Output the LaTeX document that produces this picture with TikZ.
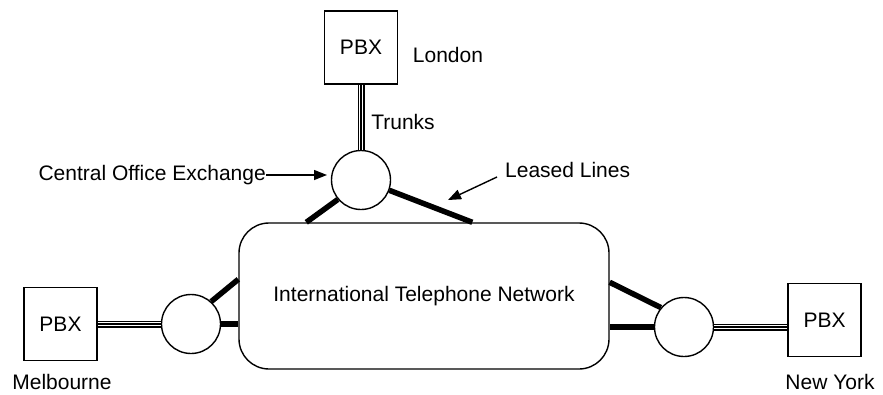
\documentclass[tikz,border=0pt]{standalone}
\usepackage{fontspec}
\setmainfont{Liberation Sans}
\usetikzlibrary{arrows.meta,calc}
\begin{document}
\begin{tikzpicture}[x=1pt,y=-1pt,
  every node/.style={font=\fontsize{21}{25}\selectfont, inner sep=0pt},
  pbx/.style={draw, line width=1.4pt, minimum width=73pt, minimum height=73pt},
  office/.style={draw, circle, line width=1.4pt, minimum size=59pt, fill=white},
  network/.style={draw, line width=1.4pt, rounded corners=30pt, minimum width=370pt, minimum height=146pt},
  leased/.style={line width=5.5pt},
  trunkout/.style={line width=1.2pt, double, double distance=4.6pt},
  trunkin/.style={line width=1.2pt},
  pointer/.style={line width=1.4pt, -{Triangle[length=13pt,width=10pt]}}]
\useasboundingbox (0,0) rectangle (883,394);

\node[network] (net) at (424,296) {International Telephone Network};

\node[pbx] (lon) at (361,47.5) {PBX};
\node[pbx] (mel) at (60.5,324) {PBX};
\node[pbx] (ny) at (824.5,320) {PBX};

\node[office] (c1) at (361,180) {};
\node[office] (c2) at (191,324) {};
\node[office] (c3) at (684,327) {};

\node (london) at (448,55) {London};
\node (trunks) at (403,122) {Trunks};
\node (melb) at (62,382) {Melbourne};
\node (nyork) at (830,382) {New York};
\node[anchor=east] (coe) at (266,175) {Central Office Exchange};
\node[anchor=west] (ll) at (505,170) {Leased Lines};

% trunks
\draw[trunkout] (lon.south) -- (c1.north);
\draw[trunkin] (lon.south) -- (c1.north);
\draw[trunkout] (mel.east) -- (c2.west);
\draw[trunkin] (mel.east) -- (c2.west);
\draw[trunkout] (c3.east) -- (c3.east -| ny.west);
\draw[trunkin] (c3.east) -- (c3.east -| ny.west);

% leased lines
\draw[leased] (c1.220) -- ($(net.north west)+(68,0)$);
\draw[leased] (c1.340) -- ($(net.north west)+(234,0)$);
\draw[leased] (c2.48) -- ($(net.north west)+(0,57)$);
\draw[leased] (c2.east) -- (c2.east -| net.west);
\draw[leased] (c3.140) -- ($(net.north east)+(0,60)$);
\draw[leased] (c3.west) -- (c3.west -| net.east);

% pointers
\coordinate (coetip) at (327,175);
\draw[pointer] (coe.east) -- (coetip);
\coordinate (lltail) at (497,177);
\coordinate (lltip) at (448,200);
\draw[pointer] (lltail) -- (lltip);
\end{tikzpicture}
\end{document}
